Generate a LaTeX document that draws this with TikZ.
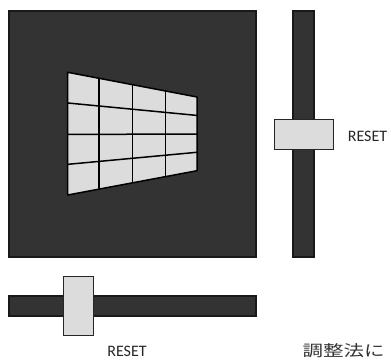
\documentclass[tikz,border=0pt]{standalone}
\usepackage{fontspec}
\setmainfont{Carlito}
\newfontfamily\jpfont{Noto Sans CJK JP}
\usetikzlibrary{calc}
\definecolor{barfill}{HTML}{333333}
\definecolor{knobfill}{HTML}{DCDCDC}
\tikzset{
  darkpart/.style={fill=barfill, draw=black!90, line width=1.1pt,
    preaction={draw=gray!55, line width=2.6pt}},
  knob/.style={fill=knobfill, draw=black!85, line width=1pt},
  gridline/.style={draw=black, line width=1.5pt, line join=round, line cap=round},
  label/.style={font=\fontsize{16}{16}\selectfont, inner sep=0pt, text=black!85},
}
\begin{document}
\begin{tikzpicture}[x=1pt, y=-1pt]
\useasboundingbox (0,0) rectangle (391,360);
\clip (0,0) rectangle (391,360);

% screen
\draw[darkpart] (9,11) rectangle (256,257);

% keystone-distorted test grid
\coordinate (TL) at (67.7,72.3);
\coordinate (BL) at (67.7,195);
\coordinate (TR) at (197,97);
\coordinate (BR) at (197,170.7);
\fill[knobfill] (TL) -- (TR) -- (BR) -- (BL) -- cycle;
\foreach \t in {0.25,0.505,0.75}
  \draw[gridline] ($(TL)!\t!(BL)$) -- ($(TR)!\t!(BR)$);
\foreach \t in {0.242,0.503,0.756}
  \draw[gridline] ($(TL)!\t!(TR)$) -- ($(BL)!\t!(BR)$);
\draw[gridline] (TL) -- (TR) -- (BR) -- (BL) -- cycle;

% vertical slider
\draw[darkpart] (293,11) rectangle (314,257);
\draw[knob] (274,119) rectangle (333,149);
\node[label] (vreset) at (367.5,136) {RESET};

% horizontal slider
\draw[darkpart] (9,296) rectangle (256,316);
\draw[knob] (63,276) rectangle (93,335);
\node[label] (hreset) at (127,351.5) {RESET};

% caption
\node[anchor=west, inner sep=0pt, yscale=0.75, font=\jpfont\fontsize{20.5}{20.5}\selectfont, text=black!80] (caption) at (302.5,351) {調整法に};
\end{tikzpicture}
\end{document}
